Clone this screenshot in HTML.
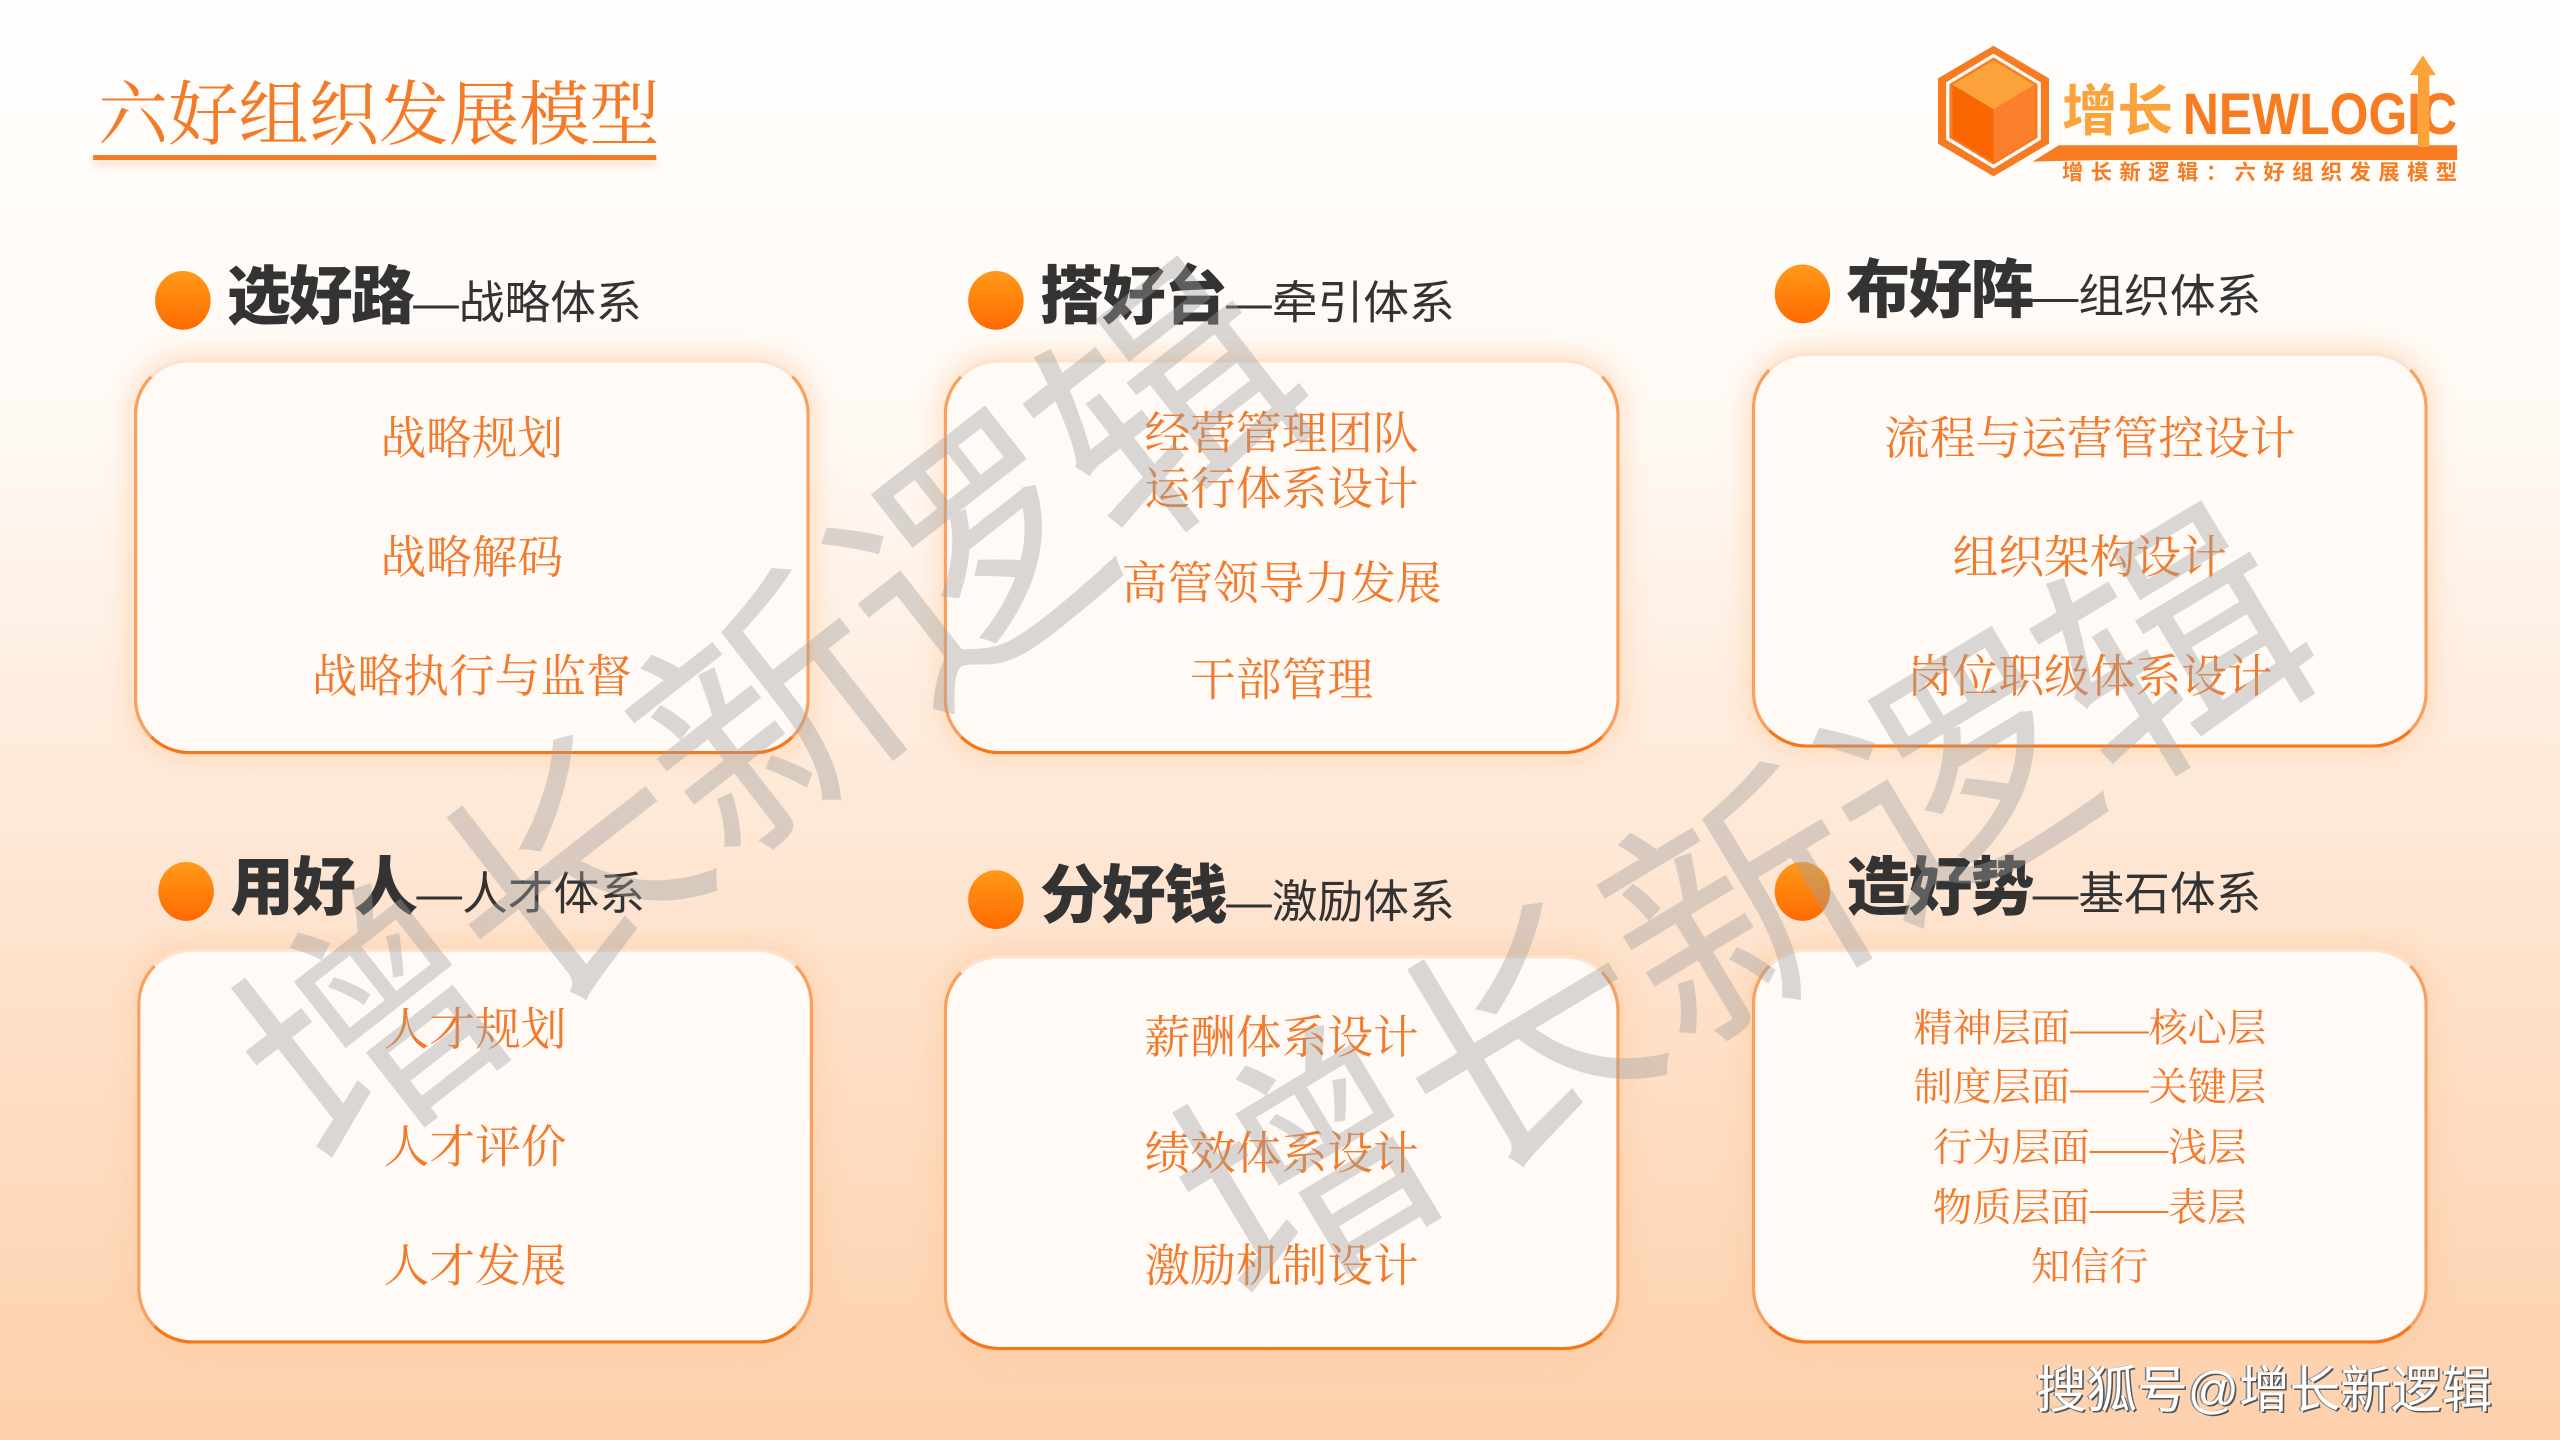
<!DOCTYPE html>
<html><head><meta charset="utf-8"><style>
html,body{margin:0;padding:0;width:2560px;height:1440px;overflow:hidden;position:relative}
#w{position:absolute;left:0;top:0;width:1568px;height:882px;transform:scale(1.632653);transform-origin:0 0;
background:linear-gradient(180deg,#fffefd 0%,#fff9f4 30%,#fee6d3 60%,#fdd0ac 100%);overflow:hidden;
font-family:"Liberation Sans","Noto Sans CJK SC",sans-serif}
.title{position:absolute;left:60px;top:37px;font-family:"Liberation Serif","Noto Serif CJK SC",serif;font-size:43px;color:#f47a28;white-space:nowrap}
.ul{position:absolute;left:57px;top:95px;width:345px;height:3px;background:#f47a28;box-shadow:0 3px 5px rgba(245,140,70,.35)}
.box{position:absolute;width:414px;height:242px;box-sizing:border-box;border-radius:34px;background:#fffaf6;
border:2px solid #f8a060;border-top-color:#fde3cf;border-bottom-color:#f77618;
box-shadow:0 0 14px 4px rgba(253,200,150,.45)}
.it{position:absolute;left:0;width:100%;text-align:center;font-family:"Liberation Serif","Noto Serif CJK SC",serif;color:#f27a2c;font-size:28px;line-height:34px;white-space:nowrap}
.hd{position:absolute;white-space:nowrap;color:#333;line-height:44px}
.hd .dot{position:absolute;left:-44px;top:5px;width:34px;height:36px;border-radius:50%;background:linear-gradient(180deg,#ff9a1a,#ff6a00)}
.hd b{font-size:39px;font-weight:900;letter-spacing:-1px}
.hd span{font-size:28px}
.wm{position:absolute;font-family:"Liberation Sans","Noto Sans CJK SC",sans-serif;color:rgba(160,160,160,.4);font-size:155px;white-space:nowrap;transform-origin:0 0;font-weight:normal}
.foot{position:absolute;left:1247px;top:826px;font-size:31px;color:#fff;white-space:nowrap;text-shadow:1px 1px 0 #555,-1px 0 0 #888}
</style></head><body><div id="w">
<div class="title">六好组织发展模型</div><div class="ul"></div>

<svg style="position:absolute;left:1185px;top:26px" width="325" height="86" viewBox="0 0 325 86">
<polygon points="36,2 70,22 70,62 36,82 2,62 2,22" fill="#f77b20"/>
<polygon points="36,8 64,25 64,59 36,76 8,59 8,25" fill="none" stroke="#fff" stroke-width="2"/>
<polygon points="36,11 61,26 36,41 11,26" fill="#fba23a"/>
<polygon points="11,26 36,41 36,73 11,58" fill="#f96500"/>
<polygon points="36,41 61,26 61,58 36,73" fill="#fb7f2c"/>
<polygon points="60,73 76,63 320,63 320,72 100,72" fill="#f77b20"/>
<text x="78" y="54" font-family="Liberation Sans,Noto Sans CJK SC,sans-serif" font-weight="bold" font-size="34" fill="#fba23a">增长</text>
<text x="152" y="56" font-family="Liberation Sans,sans-serif" font-weight="bold" font-size="36" fill="#f77b20" textLength="168" lengthAdjust="spacingAndGlyphs">NEWLOGIC</text>
<polygon points="299,8 307,20 303,20 303,64 296,64 296,20 291,20" fill="#fba23a"/>
<text x="78" y="84" font-family="Liberation Sans,Noto Sans CJK SC,sans-serif" font-weight="bold" font-size="13" fill="#f77b20" textLength="242" lengthAdjust="spacing">增长新逻辑：六好组织发展模型</text>
</svg>

<div class="hd" style="left:139px;top:161px"><div class="dot"></div><b>选好路</b><span>—战略体系</span></div>
<div class="hd" style="left:637px;top:161px"><div class="dot"></div><b>搭好台</b><span>—牵引体系</span></div>
<div class="hd" style="left:1131px;top:157px"><div class="dot"></div><b>布好阵</b><span>—组织体系</span></div>
<div class="hd" style="left:141px;top:523px"><div class="dot"></div><b>用好人</b><span>—人才体系</span></div>
<div class="hd" style="left:637px;top:528px"><div class="dot"></div><b>分好钱</b><span>—激励体系</span></div>
<div class="hd" style="left:1131px;top:523px"><div class="dot"></div><b>造好势</b><span>—基石体系</span></div>

<div class="box" style="left:82px;top:220px">
<div class="it" style="top:31px">战略规划</div><div class="it" style="top:104px">战略解码</div><div class="it" style="top:177px">战略执行与监督</div></div>
<div class="box" style="left:578px;top:220px">
<div class="it" style="top:28px">经营管理团队</div><div class="it" style="top:62px">运行体系设计</div><div class="it" style="top:120px">高管领导力发展</div><div class="it" style="top:179px">干部管理</div></div>
<div class="box" style="left:1073px;top:216px">
<div class="it" style="top:35px">流程与运营管控设计</div><div class="it" style="top:108px">组织架构设计</div><div class="it" style="top:181px">岗位职级体系设计</div></div>
<div class="box" style="left:84px;top:581px">
<div class="it" style="top:32px">人才规划</div><div class="it" style="top:104px">人才评价</div><div class="it" style="top:177px">人才发展</div></div>
<div class="box" style="left:578px;top:585px">
<div class="it" style="top:33px">薪酬体系设计</div><div class="it" style="top:104px">绩效体系设计</div><div class="it" style="top:173px">激励机制设计</div></div>
<div class="box" style="left:1073px;top:581px">
<div class="it" style="top:31px;font-size:24px">精神层面——核心层</div><div class="it" style="top:67px;font-size:24px">制度层面——关键层</div><div class="it" style="top:104px;font-size:24px">行为层面——浅层</div><div class="it" style="top:141px;font-size:24px">物质层面——表层</div><div class="it" style="top:177px;font-size:24px">知信行</div></div>

<div class="wm" style="left:90px;top:580px;transform:rotate(-38deg)">增长新逻辑</div>
<div class="wm" style="left:670px;top:650px;transform:rotate(-31deg)">增长新逻辑</div>

<div class="foot">搜狐号@增长新逻辑</div>
</div></body></html>
